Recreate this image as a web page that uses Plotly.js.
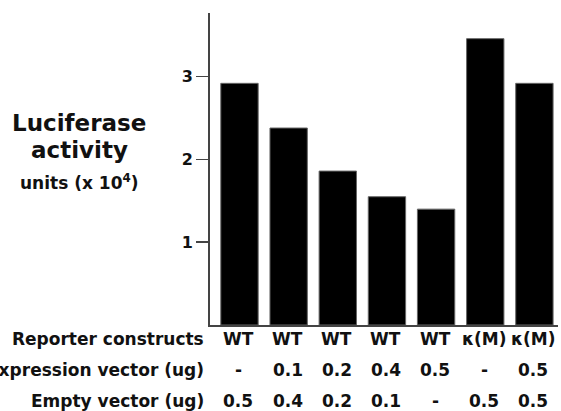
<!DOCTYPE html>
<html>
<head>
<meta charset="utf-8">
<script src="https://cdn.plot.ly/plotly-3.0.1.min.js"></script>
<style>html,body{margin:0;padding:0;background:#fff;}#chart{width:561px;height:411px;}</style>
</head>
<body>
<div id="chart"></div>
<script>
// Data
const barIndex = [0, 1, 2, 3, 4, 5, 6];
const luciferase = [2.92, 2.38, 1.86, 1.55, 1.40, 3.46, 2.92];
const reporterConstructs = ['WT', 'WT', 'WT', 'WT', 'WT', 'κ(M)', 'κ(M)'];
const expressionVector = ['-', '0.1', '0.2', '0.4', '0.5', '-', '0.5'];
const emptyVector = ['0.5', '0.4', '0.2', '0.1', '-', '0.5', '0.5'];
const rowLabels = ['Reporter constructs', 'Expression vector (ug)', 'Empty vector (ug)'];
const yTicks = [1, 2, 3];

const FONT = 'DejaVu Sans, Verdana, sans-serif';
const rows = [reporterConstructs, expressionVector, emptyVector];
const rowShift = [-14, -45, -76];

const annotations = [];
rows.forEach((row, r) => {
  row.forEach((txt, i) => {
    annotations.push({
      x: barIndex[i], xref: 'x', xshift: -1, y: 0, yref: 'paper',
      yshift: rowShift[r], xanchor: 'center', yanchor: 'middle',
      text: '<b>' + txt + '</b>', showarrow: false,
      font: {family: FONT, size: 17, color: '#111'}
    });
  });
  annotations.push({
    x: 0, xref: 'paper', xshift: -4, y: 0, yref: 'paper',
    yshift: rowShift[r], xanchor: 'right', yanchor: 'middle',
    text: '<b>' + rowLabels[r] + '</b>', showarrow: false,
    font: {family: FONT, size: 17, color: '#111'}
  });
});

// Y axis title block
const titlePaperX = (79 - 210) / 348;
annotations.push({
  x: titlePaperX, xref: 'paper', y: (325 - 123) / 312, yref: 'paper',
  xanchor: 'center', yanchor: 'middle', showarrow: false,
  text: '<b>Luciferase</b>', font: {family: FONT, size: 23, color: '#111'}
});
annotations.push({
  x: titlePaperX, xref: 'paper', y: (325 - 150) / 312, yref: 'paper',
  xanchor: 'center', yanchor: 'middle', showarrow: false,
  text: '<b>activity</b>', font: {family: FONT, size: 23, color: '#111'}
});
annotations.push({
  x: titlePaperX, xref: 'paper', y: (325 - 182) / 312, yref: 'paper',
  xanchor: 'center', yanchor: 'middle', showarrow: false,
  text: '<b>units (x 10<sup>4</sup>)</b>', font: {family: FONT, size: 17, color: '#111'}
});

const data = [{
  type: 'bar',
  x: barIndex,
  y: luciferase,
  marker: {color: '#000', line: {color: '#666', width: 1}},
  hoverinfo: 'none'
}];

const layout = {
  width: 561, height: 411,
  margin: {l: 210, r: 3, t: 13, b: 86},
  paper_bgcolor: '#fff', plot_bgcolor: '#fff',
  showlegend: false,
  bargap: 0.24,
  font: {family: FONT, color: '#111'},
  xaxis: {
    range: [-0.6, 6.48], showgrid: false, zeroline: false,
    showline: true, linecolor: '#444', linewidth: 2,
    showticklabels: false, ticks: '', fixedrange: true
  },
  yaxis: {
    range: [0, 3.77], showgrid: false, zeroline: false,
    showline: true, linecolor: '#444', linewidth: 2,
    ticks: 'outside', ticklen: 12, tickwidth: 1.5, tickcolor: '#444',
    tickvals: yTicks, ticktext: yTicks.map(v => '<b>' + v + '</b>'),
    tickfont: {family: FONT, size: 16, color: '#111'},
    fixedrange: true
  },
  annotations: annotations
};

Plotly.newPlot('chart', data, layout, {staticPlot: true, displayModeBar: false});
</script>
</body>
</html>
